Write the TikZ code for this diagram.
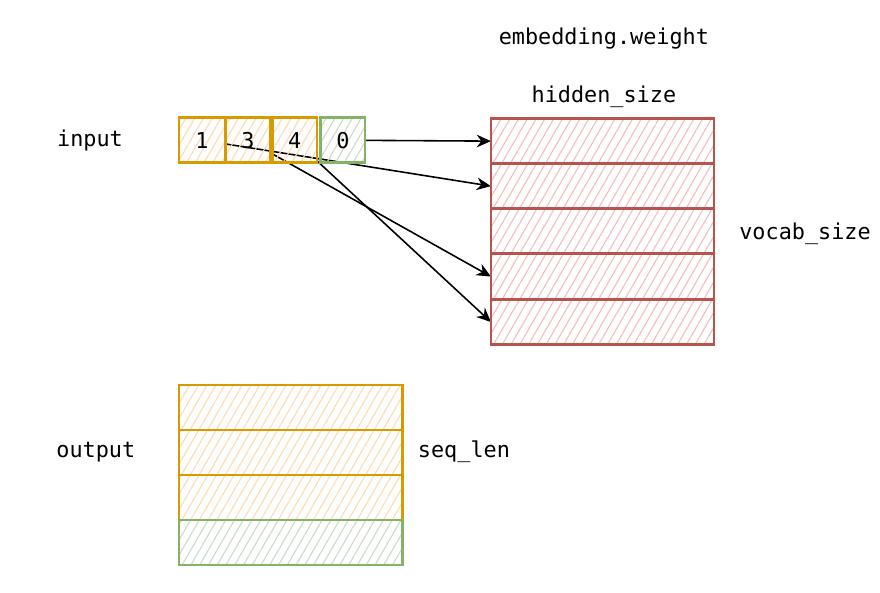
\documentclass[tikz,border=0pt]{standalone}
\usepackage{fontspec}
\setmonofont{DejaVu Sans Mono}
\usetikzlibrary{arrows.meta,patterns.meta,backgrounds}
\definecolor{orangeline}{HTML}{D79B00}
\definecolor{orangefill}{HTML}{FFD9B3}
\definecolor{greenline}{HTML}{82B366}
\definecolor{greenfill}{HTML}{C6DFC4}
\definecolor{redline}{HTML}{B85450}
\definecolor{redfill}{HTML}{F4BDBB}

\begin{document}
\begin{tikzpicture}[every node/.style={outer sep=0pt, font=\ttfamily\fontsize{13.8}{16}\selectfont},
  cell/.style={line width=1.6pt, minimum width=1.04cm-\pgflinewidth, minimum height=1cm, inner sep=0pt},
  row/.style={cell, minimum width=4.96cm},
  hatch/.style={pattern={Lines[angle=60,distance=4.8pt,line width=0.7pt]}},
  orangecell/.style={draw=orangeline, hatch, pattern color=orangefill},
  greencell/.style={draw=greenline, hatch, pattern color=greenfill},
  redcell/.style={draw=redline, hatch, pattern color=redfill},
  link/.style={-{Stealth[length=9pt,width=8pt]}, line width=1pt}]
\useasboundingbox (0,0) rectangle (19.556,13.156);

% input ids
\node (input) at (2.0,10.04) {input};
\node[cell, orangecell] (b1) at (4.49,10.04) {1};
\node[cell, orangecell] (b3) at (5.51,10.04) {3};
\node[cell, orangecell] (b4) at (6.55,10.04) {4};
\node[cell, greencell] (b0) at (7.62,10.04) {0};

% embedding table
\node (weight) at (13.42,12.29) {embedding.weight};
\node (hidden) at (13.42,11.0) {hidden\_size};
\node[row, redcell] (e0) at (13.39,10.02) {};
\node[row, redcell] (e1) at (13.39,9.02) {};
\node[row, redcell] (e2) at (13.39,8.02) {};
\node[row, redcell] (e3) at (13.39,7.01) {};
\node[row, redcell] (e4) at (13.39,6.0) {};
\node (vocab) at (17.89,7.96) {vocab\_size};

% output
\node (output) at (2.13,3.11) {output};
\node[row, orangecell] (o1) at (6.46,4.1) {};
\node[row, orangecell] (o2) at (6.46,3.1) {};
\node[row, orangecell] (o3) at (6.46,2.1) {};
\node[row, greencell] (o4) at (6.46,1.1) {};
\node (seqlen) at (10.31,3.11) {seq\_len};

% lookups
\begin{scope}[on background layer]
\draw[link] (b0) -- (e0.west);
\draw[link] (b1) -- (e1.west);
\draw[link] (b3) -- (e3.west);
\draw[link] (b4) -- (e4.west);
\end{scope}
\end{tikzpicture}
\end{document}
